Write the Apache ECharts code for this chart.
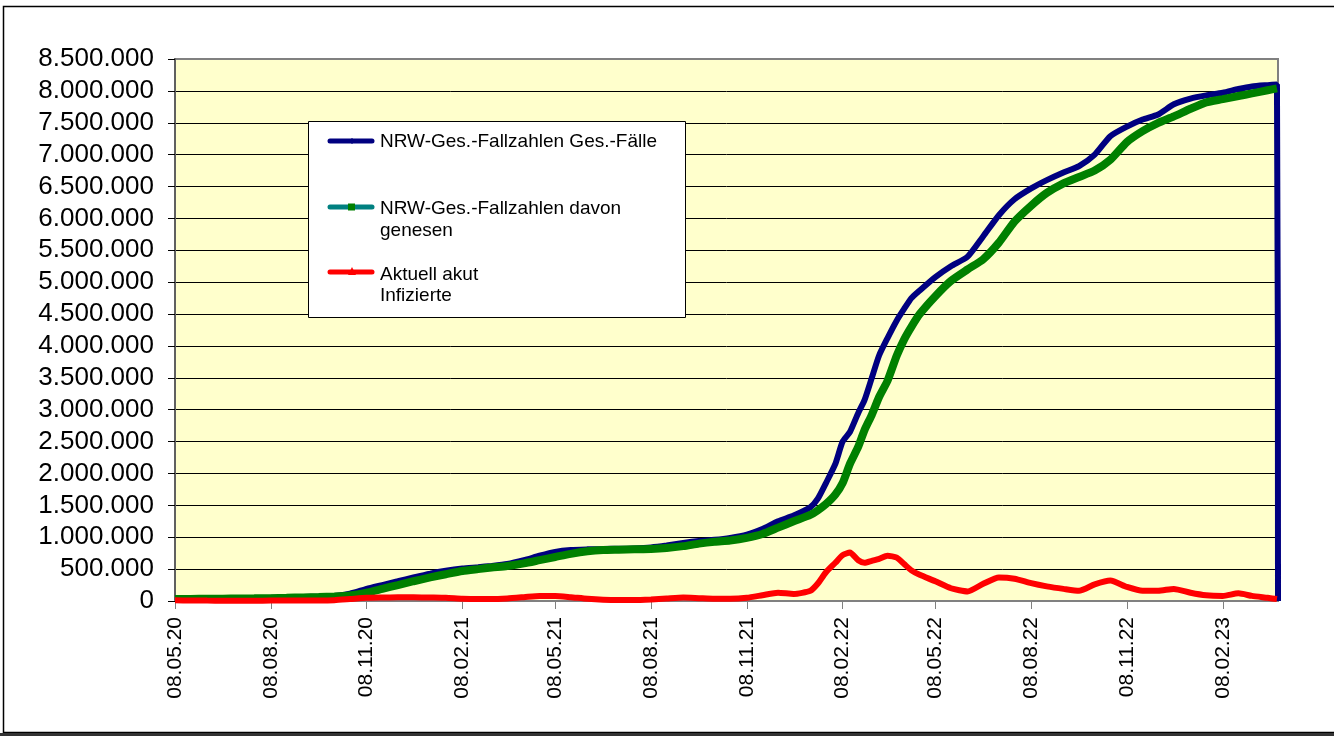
<!DOCTYPE html>
<html>
	<head>
		<meta charset="utf-8" />
		<title>NRW Fallzahlen</title>
		<script src="https://cdn.jsdelivr.net/npm/echarts@6/dist/echarts.min.js"></script>
		<style>
			html, body { margin: 0; padding: 0; background: #fff; }
			#chart { width: 1334px; height: 736px; }
		</style>
	</head>
	<body>
		<div id="chart"></div>
		<script>
			// Stichtage (dd.mm.yy)
			var dates = ['08.05.20','23.05.20','08.06.20','23.06.20','08.07.20','23.07.20','08.08.20','23.08.20','08.09.20','23.09.20','08.10.20','23.10.20','08.11.20','23.11.20','08.12.20','23.12.20',
				'08.01.21','23.01.21','08.02.21','23.02.21','08.03.21','23.03.21','08.04.21','23.04.21','08.05.21','23.05.21','08.06.21','23.06.21','08.07.21','23.07.21','08.08.21','23.08.21','08.09.21','23.09.21','08.10.21','23.10.21','08.11.21','23.11.21','08.12.21','23.12.21',
				'08.01.22','15.01.22','23.01.22','01.02.22','08.02.22','15.02.22','23.02.22','01.03.22','08.03.22','15.03.22','23.03.22','01.04.22','08.04.22','15.04.22','23.04.22','08.05.22','23.05.22','08.06.22','23.06.22','08.07.22','23.07.22','08.08.22','23.08.22','08.09.22','23.09.22','08.10.22','23.10.22','08.11.22','23.11.22','08.12.22','23.12.22',
				'08.01.23','23.01.23','08.02.23','23.02.23','08.03.23','23.03.23','01.04.23','02.04.23'];

			// NRW-Ges.-Fallzahlen Ges.-Fälle
			var faelle = [35000,37000,39000,41000,44000,46000,50000,56000,62000,68000,80000,115000,190000,250000,310000,370000,
				430000,475000,510000,530000,550000,580000,640000,710000,770000,800000,810000,815000,820000,825000,840000,870000,910000,940000,960000,990000,1040000,1130000,1250000,1340000,
				1470000,1600000,1850000,2150000,2500000,2650000,2950000,3150000,3500000,3850000,4120000,4400000,4580000,4750000,4870000,5080000,5250000,5400000,5720000,6050000,6300000,6470000,6600000,6720000,6820000,7000000,7290000,7440000,7550000,7630000,7790000,
				7880000,7930000,7970000,8030000,8070000,8090000,8100000,0];

			// NRW-Ges.-Fallzahlen davon genesen
			var genesen = [30000,33000,35000,37000,40000,42000,45000,50000,56000,62000,70000,85000,130000,190000,250000,310000,
				370000,420000,470000,500000,525000,550000,590000,640000,690000,740000,780000,800000,805000,810000,815000,830000,860000,900000,930000,950000,990000,1050000,1150000,1250000,
				1350000,1420000,1520000,1670000,1850000,2150000,2420000,2680000,2920000,3200000,3450000,3850000,4100000,4300000,4500000,4780000,5020000,5200000,5360000,5620000,5950000,6200000,6400000,6550000,6650000,6750000,6920000,7200000,7370000,7500000,7600000,
				7720000,7820000,7870000,7920000,7960000,8010000,8040000,null];

			// Aktuell akut Infizierte
			var akut = [10000,8000,6000,5000,5000,5000,6000,7000,8000,8000,12000,30000,50000,55000,58000,60000,
				55000,50000,35000,30000,30000,40000,60000,80000,80000,60000,35000,20000,15000,15000,25000,40000,55000,45000,35000,35000,50000,90000,130000,110000,
				160000,270000,450000,600000,720000,760000,640000,600000,630000,660000,710000,680000,580000,480000,410000,310000,200000,150000,270000,370000,350000,280000,230000,190000,160000,260000,320000,220000,160000,160000,190000,
				130000,90000,80000,120000,80000,50000,30000,null];

			// Achsenbeschriftung
			var tickDates = ['08.05.20','08.08.20','08.11.20','08.02.21','08.05.21','08.08.21','08.11.21','08.02.22','08.05.22','08.08.22','08.11.22','08.02.23'];

			function toDay(s) {
				var p = s.split('.');
				var t = Date.UTC(2000 + Number(p[2]), Number(p[1]) - 1, Number(p[0]));
				return Math.round((t - Date.UTC(2020, 4, 8)) / 86400000);
			}

			function pairs(values) {
				return values.map(function(v, i) {
					return [toDay(dates[i]), v];
				});
			}

			var tickDays = tickDates.map(toDay);
			var labelByDay = {};
			for (var i = 0; i < tickDates.length; i++) {
				labelByDay[tickDays[i]] = tickDates[i];
			}

			var font = '"Liberation Sans", Arial, sans-serif';
			var chart = echarts.init(document.getElementById('chart'), null, { renderer: 'canvas' });

			// Legende als Kasten wie im Original
			var lg = [
				{ type: 'rect', shape: { x: 308.5, y: 121.5, width: 377, height: 196 }, style: { fill: '#fff', stroke: '#000', lineWidth: 1 } },
				{ type: 'line', shape: { x1: 330, y1: 141, x2: 372, y2: 141 }, style: { stroke: '#000080', lineWidth: 5, lineCap: 'round' } },
				{ type: 'polygon', shape: { points: [[352, 138], [355, 141], [352, 144], [349, 141]] }, style: { fill: '#000080' } },
				{ type: 'text', x: 380, y: 142, style: { text: 'NRW-Ges.-Fallzahlen Ges.-Fälle', font: '19px ' + font, fill: '#000', verticalAlign: 'middle' } },
				{ type: 'line', shape: { x1: 330, y1: 207, x2: 372, y2: 207 }, style: { stroke: '#008080', lineWidth: 5, lineCap: 'round' } },
				{ type: 'rect', shape: { x: 348, y: 203.5, width: 7, height: 7 }, style: { fill: '#008000' } },
				{ type: 'text', x: 380, y: 209, style: { text: 'NRW-Ges.-Fallzahlen davon', font: '19px ' + font, fill: '#000', verticalAlign: 'middle' } },
				{ type: 'text', x: 380, y: 231, style: { text: 'genesen', font: '19px ' + font, fill: '#000', verticalAlign: 'middle' } },
				{ type: 'line', shape: { x1: 330, y1: 272, x2: 372, y2: 272 }, style: { stroke: '#ff0000', lineWidth: 5, lineCap: 'round' } },
				{ type: 'polygon', shape: { points: [[352, 267], [356, 275], [348, 275]] }, style: { fill: '#ff0000' } },
				{ type: 'text', x: 380, y: 275, style: { text: 'Aktuell akut', font: '19px ' + font, fill: '#000', verticalAlign: 'middle' } },
				{ type: 'text', x: 380, y: 296, style: { text: 'Infizierte', font: '19px ' + font, fill: '#000', verticalAlign: 'middle' } }
			];
			lg.forEach(function(el, k) {
				el.z = 100 + k;
				el.silent = true;
			});

			var option = {
				animation: false,
				backgroundColor: '#fff',
				grid: {
					left: 175,
					right: 56,
					top: 59,
					bottom: 135,
					show: true,
					backgroundColor: '#ffffcc',
					borderColor: '#808080',
					borderWidth: 2
				},
				xAxis: {
					type: 'value',
					min: 0,
					max: toDay(dates[dates.length - 1]),
					splitLine: { show: false },
					axisLine: { show: true, lineStyle: { color: '#808080', width: 2 } },
					axisTick: { show: true, customValues: tickDays, length: 8, lineStyle: { color: '#808080', width: 1 } },
					axisLabel: {
						customValues: tickDays,
						rotate: 90,
						margin: 16,
						color: '#000',
						fontFamily: font,
						fontSize: 21,
						formatter: function(v) {
							return labelByDay[v] || '';
						}
					}
				},
				yAxis: {
					type: 'value',
					min: 0,
					max: 8500000,
					interval: 500000,
					axisLine: { show: true, lineStyle: { color: '#606060', width: 2 } },
					axisTick: { show: true, length: 7, lineStyle: { color: '#000' } },
					splitLine: { show: true, showMinLine: false, showMaxLine: false, lineStyle: { color: '#000', width: 1 } },
					axisLabel: {
						margin: 21,
						color: '#000',
						fontFamily: font,
						fontSize: 26,
						formatter: function(v) {
							return String(v).replace(/\B(?=(\d{3})+(?!\d))/g, '.');
						}
					}
				},
				series: [
					{
						name: 'NRW-Ges.-Fallzahlen Ges.-Fälle',
						type: 'line',
						data: pairs(faelle),
						showSymbol: false,
						smooth: 0.2,
						lineStyle: { color: '#000080', width: 6 },
						itemStyle: { color: '#000080' }
					},
					{
						name: 'NRW-Ges.-Fallzahlen davon genesen',
						type: 'line',
						data: pairs(genesen),
						showSymbol: false,
						smooth: 0.2,
						lineStyle: { color: '#008000', width: 8 },
						itemStyle: { color: '#008000' }
					},
					{
						name: 'Aktuell akut Infizierte',
						type: 'line',
						data: pairs(akut),
						showSymbol: false,
						smooth: 0.2,
						lineStyle: { color: '#ff0000', width: 6 },
						itemStyle: { color: '#ff0000' }
					}
				],
				graphic: [
					{ type: 'rect', shape: { x: 3.5, y: 6.5, width: 1345, height: 726 }, style: { fill: null, stroke: '#000', lineWidth: 1.5 }, silent: true },
					{ type: 'line', shape: { x1: 0, y1: 734.5, x2: 1334, y2: 734.5 }, style: { stroke: '#333', lineWidth: 3 }, silent: true },
					{ type: 'group', children: lg }
				]
			};

			chart.setOption(option);
		</script>
	</body>
</html>
